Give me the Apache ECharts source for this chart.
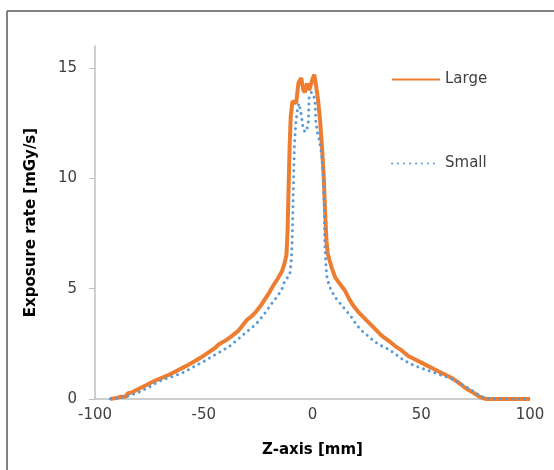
<!DOCTYPE html>
<html lang="en">
<head>
    <meta charset="UTF-8">
    <title>Exposure rate</title>
    <script src="https://cdn.jsdelivr.net/npm/echarts@6.0.0/dist/echarts.min.js"></script>
    <style>
        body { margin: 0; background: #fff; }
    </style>
</head>
<body>
    <div id="main" style="width: 554px;height:470px;"></div>
    <script type="text/javascript">
      // z position [mm] and exposure rate [mGy/s]
      var largeZ = [-93, -90, -88, -86, -85, -83, -80, -77, -75, -72, -69, -66, -63, -60, -57, -54, -51, -48, -45, -43,
        -40, -37, -34, -32, -30, -28, -26, -24, -22, -20, -18, -16, -14, -13, -12, -11.5, -11, -10.5, -10, -9.2,
        -7.5, -6.5, -5.2, -4.2, -3.5, -2.5, -1.5, 0, 0.8, 1.5, 2.5, 3.5, 4.5, 5.2, 5.8, 6.4, 7, 7.8, 9, 10.5,
        12, 13.5, 15, 17, 19, 21, 23.5, 26, 28.5, 31, 33, 35, 38, 41, 44, 47, 50, 53, 56, 59,
        62, 64, 66, 68, 70, 72, 74, 76, 78, 80, 85, 90, 95, 100];
      var largeRate = [0, 0.05, 0.1, 0.1, 0.25, 0.3, 0.45, 0.6, 0.7, 0.85, 0.97, 1.1, 1.25, 1.4, 1.55, 1.72, 1.9, 2.1, 2.3, 2.48,
        2.65, 2.86, 3.1, 3.35, 3.6, 3.75, 3.95, 4.2, 4.5, 4.8, 5.15, 5.45, 5.8, 6.1, 6.5, 7.5, 9.5, 11.5, 12.8, 13.5,
        13.4, 14.3, 14.55, 14.0, 13.9, 14.3, 14.0, 14.5, 14.7, 14.3, 13.6, 12.6, 11.2, 10.0, 8.5, 7.2, 6.6, 6.3, 5.9, 5.5,
        5.3, 5.1, 4.9, 4.5, 4.2, 3.95, 3.7, 3.45, 3.2, 2.95, 2.78, 2.64, 2.4, 2.2, 1.95, 1.8, 1.65, 1.5, 1.35, 1.2,
        1.05, 0.95, 0.82, 0.68, 0.52, 0.4, 0.28, 0.15, 0.05, 0, 0, 0, 0, 0];

      var smallZ = [-93, -90, -87, -84, -80, -77, -74, -71, -68, -65, -62, -59, -56, -53, -50, -47, -44, -41, -38, -35,
        -32, -29, -27, -25, -23, -21, -19, -17, -15.5, -14, -12.8, -11.5, -10.5, -9.8, -9.3, -8.8, -8.3, -7.6, -6.8, -6.2,
        -5.2, -4.2, -3.2, -2, -1.5, -0.5, 0.5, 1.2, 1.5, 2.2, 3.2, 4, 4.8, 5.3, 5.6, 6, 6.5, 7.5, 8.7, 10.5,
        13, 15.5, 18, 20, 22.5, 25, 28, 31, 35, 38, 42, 46, 50, 54, 58, 61, 65, 68, 71.5, 74,
        77, 79, 82, 85, 90, 95, 100];
      var smallRate = [0, 0.02, 0.08, 0.15, 0.3, 0.45, 0.6, 0.78, 0.9, 1.0, 1.1, 1.22, 1.38, 1.55, 1.7, 1.88, 2.05, 2.22, 2.4, 2.65,
        2.9, 3.15, 3.3, 3.5, 3.75, 4.0, 4.3, 4.55, 4.75, 5.0, 5.35, 5.5, 5.6, 6.2, 7.2, 9.5, 11.5, 12.6, 13.2, 13.4,
        12.9, 12.2, 12.1, 12.4, 13.7, 13.9, 13.8, 13.4, 12.6, 12.1, 11.7, 11.2, 10.4, 9.0, 7.2, 6.3, 5.6, 5.2, 4.9, 4.6,
        4.3, 4.0, 3.7, 3.4, 3.1, 2.9, 2.64, 2.45, 2.25, 2.05, 1.75, 1.55, 1.4, 1.26, 1.12, 1.02, 0.88, 0.7, 0.5, 0.35,
        0.15, 0.05, 0.02, 0, 0, 0, 0];

      var yTicks = [0, 5, 10, 15];

      function pairs(xs, ys) {
        return xs.map(function (x, i) { return [x, ys[i]]; });
      }

      var font = 'DejaVu Sans';
      var myChart = echarts.init(document.getElementById('main'));

      var option = {
        backgroundColor: '#fff',
        animation: false,
        textStyle: { fontFamily: font },
        // frame of the chart area (only top and left show)
        graphic: [
          { type: 'line', shape: { x1: 7, y1: 11, x2: 554, y2: 11 }, style: { stroke: '#595959', lineWidth: 1.5 } },
          { type: 'line', shape: { x1: 7, y1: 11, x2: 7, y2: 470 }, style: { stroke: '#595959', lineWidth: 1.5 } }
        ],
        grid: { left: 95, right: 24, top: 46, bottom: 71 },
        legend: {
          orient: 'vertical',
          left: 386,
          top: 67,
          itemWidth: 48,
          itemHeight: 14,
          itemGap: 69,
          itemStyle: { opacity: 0 },   // line only, no marker
          textStyle: { fontFamily: font, fontSize: 15, color: '#404040' },
          data: ['Large', 'Small']
        },
        xAxis: {
          type: 'value',
          min: -100,
          max: 100,
          interval: 50,
          name: 'Z-axis [mm]',
          nameLocation: 'middle',
          nameGap: 44,
          nameTextStyle: { fontFamily: font, fontSize: 15, fontWeight: 'bold', color: '#000' },
          axisLine: { onZero: false, lineStyle: { color: '#BFBFBF', width: 1.5 } },
          axisTick: { show: false },
          axisLabel: { margin: 9, fontSize: 15, color: '#404040', fontFamily: font },
          splitLine: { show: false }
        },
        yAxis: {
          type: 'value',
          min: 0,
          max: 16,
          name: 'Exposure rate [mGy/s]',
          nameLocation: 'middle',
          nameGap: 56,
          nameTextStyle: { fontFamily: font, fontSize: 15, fontWeight: 'bold', color: '#000' },
          axisLine: { show: true, onZero: false, lineStyle: { color: '#BFBFBF', width: 1.5 } },
          axisTick: { show: true, length: 6, inside: false, customValues: yTicks, lineStyle: { color: '#BFBFBF' } },
          axisLabel: { margin: 18, fontSize: 15, color: '#404040', fontFamily: font, customValues: yTicks },
          splitLine: { show: false }
        },
        series: [
          {
            name: 'Large',
            type: 'line',
            symbol: 'none',
            color: '#ED7D31',
            lineStyle: { color: '#ED7D31', width: 4 },
            data: pairs(largeZ, largeRate)
          },
          {
            name: 'Small',
            type: 'line',
            symbol: 'none',
            color: '#5B9BD5',
            lineStyle: { color: '#5B9BD5', width: 3, type: [0.01, 6], cap: 'round' },
            data: pairs(smallZ, smallRate)
          }
        ]
      };

      myChart.setOption(option);
    </script>
</body>
</html>
